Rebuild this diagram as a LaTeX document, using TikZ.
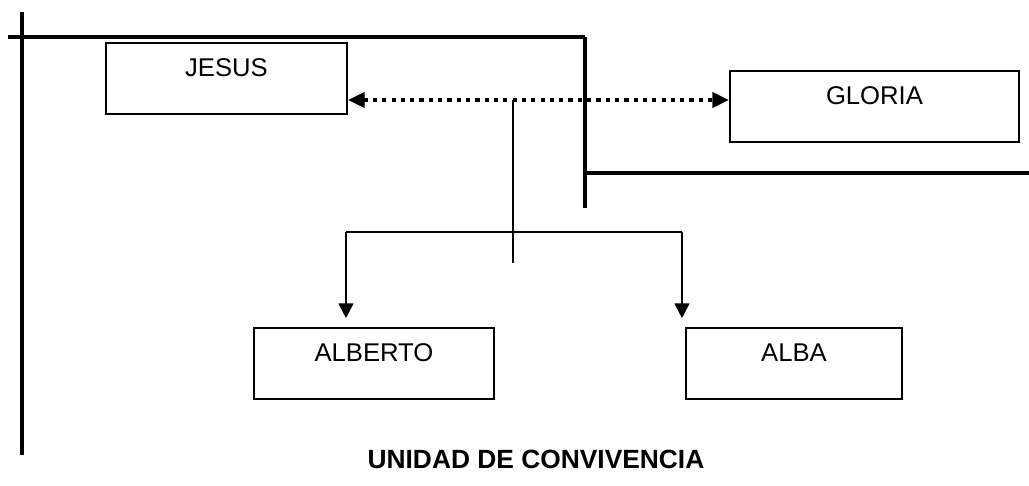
\documentclass[tikz,border=0pt]{standalone}
\usepackage{fontspec}
\setmainfont{Liberation Sans}
\usetikzlibrary{positioning}
\usetikzlibrary{arrows.meta}
\tikzstyle{person}=[rectangle,draw,line width=1.1pt,inner sep=0pt,anchor=north west,text height=19pt,text depth=21.4pt,font=\fontsize{14.6}{17}\selectfont]
\tikzstyle{caption}=[font=\fontsize{15}{18}\selectfont\bfseries]
\tikzstyle{wall}=[draw,line width=2.6pt]
\tikzstyle{link}=[draw,line width=1.1pt]
\tikzstyle{edge}=[draw,line width=1.1pt,-{Triangle[length=8.5pt,width=8.5pt]},shorten >=5pt]
\tikzstyle{couple}=[draw,line width=2.4pt,dash pattern=on 2.4pt off 2.9pt,{Triangle[length=9.5pt,width=8.5pt]}-{Triangle[length=9.5pt,width=8.5pt]}]

\begin{document}
\begin{tikzpicture}[x=0.02cm,y=-0.02cm]

    \useasboundingbox (0,0) rectangle (1029,486);

    % household walls
    \path[wall] (22,12) -- (22,455);
    \path[wall] (8,37) -- (585,37);
    \path[wall] (585,37) -- (585,208);
    \path[wall] (585,173) -- (1029,173);

    \foreach \pos/\name/\label/\boxw in {{(105,42)/jesus/JESUS/241}, {(729,70)/gloria/GLORIA/289}, {(253,327)/alberto/ALBERTO/240}, {(685,327)/alba/ALBA/216}}
        \node[person,minimum width=\boxw*0.02cm] (\name) at \pos {\label};

    \node[caption] (title) at (536,459) {UNIDAD DE CONVIVENCIA};

    \coordinate (stem) at (513,100);
    \coordinate (stemend) at (513,263);
    \coordinate (lbranch) at (346,232);
    \coordinate (rbranch) at (682,232);

    \path[couple] (stem -| jesus.east) -- (stem -| gloria.west);
    \path[link] (stem) -- (stemend);
    \path[link] (lbranch) -- (rbranch);

    \foreach \source/\dest in {lbranch/alberto, rbranch/alba}
        \path[edge] (\source) -- (\source |- \dest.north);

\end{tikzpicture}
\end{document}
